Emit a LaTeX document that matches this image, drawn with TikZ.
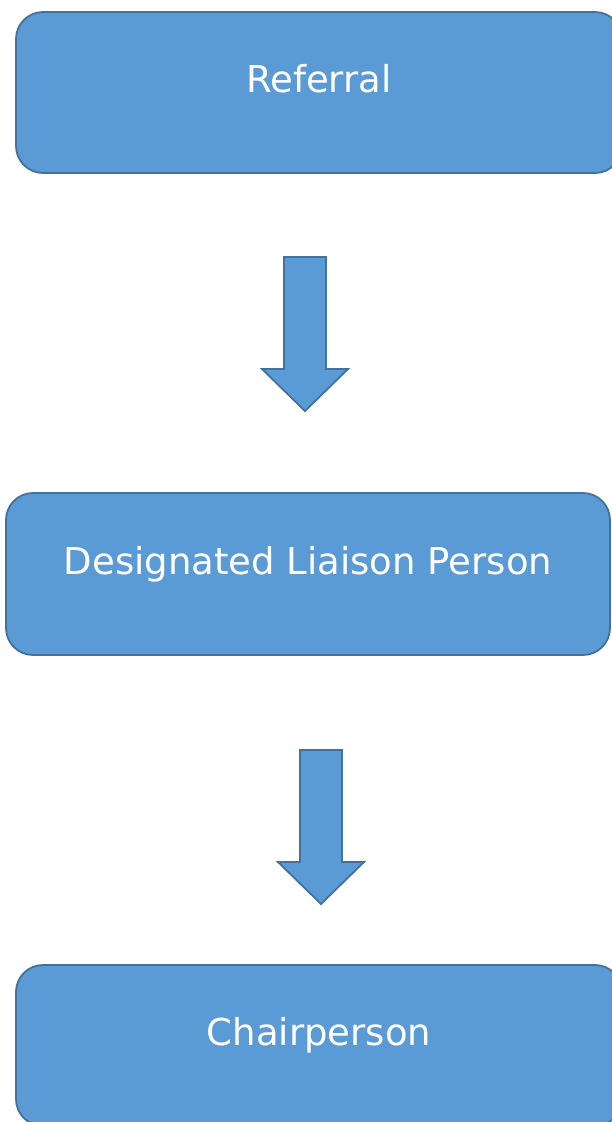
\documentclass[tikz,border=0pt]{standalone}
\usepackage{fontspec}
\setmainfont{DejaVu Sans}
\usepackage{xcolor}
\usepackage{tikz}
\usetikzlibrary{positioning, shapes, arrows.meta}

\definecolor{boxfill}{HTML}{5B9BD5}
\definecolor{boxline}{HTML}{41719C}

\tikzset{
    stagebox/.style={draw=boxline, fill=boxfill, line width=1.8pt, rounded corners=27pt,
        minimum height=161pt, text=white, text height=12pt, text depth=12pt,
        font=\fontsize{37}{44}\selectfont},
    blockarrow/.style={draw=boxline, fill=boxfill, line width=1.8pt}
}

\begin{document}
\begin{tikzpicture}[x=1pt, y=-1pt]
        \useasboundingbox (0,0) rectangle (612,1122);

        \node[stagebox, minimum width=606pt] (referral) at (319, 92.5) {Referral};
        \node[stagebox, minimum width=604pt, minimum height=162pt] (liaison) at (308, 574) {Designated Liaison Person};
        \node[stagebox, minimum width=606pt] (chair) at (319, 1045.5) {Chairperson};

        % block arrows between the stages
        \foreach \ax/\ay in {305/257, 321/750}
        \draw[blockarrow] ({\ax-21},\ay) -- ({\ax+21},\ay) -- ({\ax+21},{\ay+112}) -- ({\ax+43},{\ay+112})
            -- (\ax,{\ay+154}) -- ({\ax-43},{\ay+112}) -- ({\ax-21},{\ay+112}) -- cycle;

\end{tikzpicture}
\end{document}
